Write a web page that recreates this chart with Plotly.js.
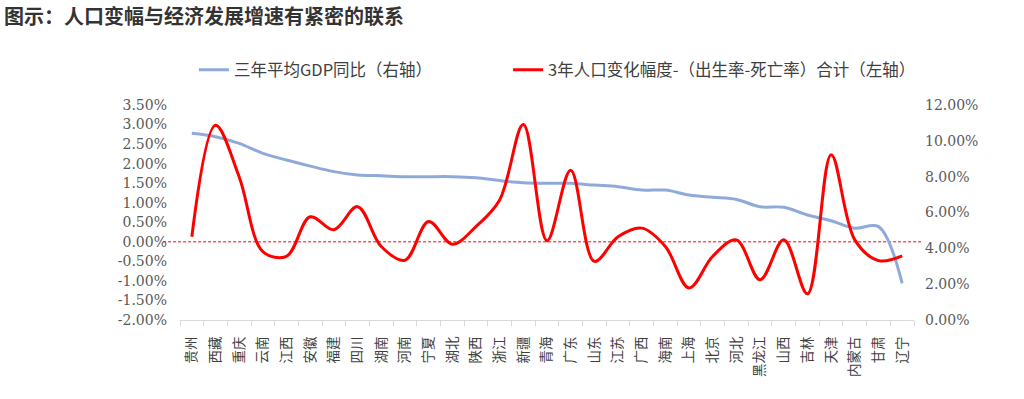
<!DOCTYPE html>
<html>
<head>
<meta charset="utf-8">
<script src="https://cdn.plot.ly/plotly-3.0.1.min.js"></script>
<style>html,body{margin:0;padding:0;background:#fff;}#chart{width:1024px;height:399px;}</style>
</head>
<body>
<div id="chart"></div>
<script>
var provinces = ["贵州","西藏","重庆","云南","江西","安徽","福建","四川","湖南","河南","宁夏","湖北","陕西","浙江","新疆","青海","广东","山东","江苏","广西","海南","上海","北京","河北","黑龙江","山西","吉林","天津","内蒙古","甘肃","辽宁"];
// 3年人口变化幅度-（出生率-死亡率）合计，%（左轴）
var popChange = [0.13, 2.98, 1.66, -0.25, -0.37, 0.64, 0.31, 0.90, -0.12, -0.47, 0.52, -0.06, 0.39, 1.07, 3.00, 0.03, 1.83, -0.50, 0.13, 0.35, -0.12, -1.18, -0.37, 0.05, -0.97, 0.05, -1.33, 2.23, 0.05, -0.48, -0.36];
// 三年平均GDP同比，%（右轴）
var gdpGrowth = [10.42, 10.23, 9.86, 9.30, 8.93, 8.59, 8.28, 8.09, 8.05, 8.00, 8.00, 8.00, 7.94, 7.78, 7.66, 7.63, 7.63, 7.53, 7.44, 7.25, 7.25, 6.98, 6.85, 6.73, 6.32, 6.29, 5.86, 5.54, 5.12, 5.21, 2.05];
var leftTickVals = [-2, -1.5, -1, -0.5, 0, 0.5, 1, 1.5, 2, 2.5, 3, 3.5];
var leftTickText = ["-2.00%","-1.50%","-1.00%","-0.50%","0.00%","0.50%","1.00%","1.50%","2.00%","2.50%","3.00%","3.50%"];
var rightTickVals = [0, 2, 4, 6, 8, 10, 12];
var rightTickText = ["0.00%","2.00%","4.00%","6.00%","8.00%","10.00%","12.00%"];
var zeroLevel = 0;

var cjk = '"Noto Sans CJK SC", "Noto Sans", sans-serif';
var numFont = '"DejaVu Serif", "Liberation Serif", serif';

var traces = [
  {
    type: 'scatter', mode: 'lines', x: provinces, y: gdpGrowth,
    name: '三年平均GDP同比（右轴）', yaxis: 'y', legend: 'legend',
    line: {color: '#8FAADA', width: 3, shape: 'spline', smoothing: 1},
    hoverinfo: 'skip'
  },
  {
    type: 'scatter', mode: 'lines', x: provinces, y: popChange,
    name: '3年人口变化幅度-（出生率-死亡率）合计（左轴）', yaxis: 'y2', legend: 'legend2',
    line: {color: '#FF0000', width: 3, shape: 'spline', smoothing: 1},
    hoverinfo: 'skip'
  }
];

var layout = {
  width: 1024, height: 399,
  margin: {l: 180, r: 110, t: 105, b: 79},
  paper_bgcolor: '#ffffff', plot_bgcolor: '#ffffff',
  title: {
    text: '<b>图示：人口变幅与经济发展增速有紧密的联系</b>',
    font: {family: cjk, size: 20, color: '#333333'},
    xref: 'container', yref: 'container', x: 0.004, xanchor: 'left', y: 0.957, yanchor: 'middle'
  },
  showlegend: true,
  legend: {
    x: 0.019, y: 1.163, xanchor: 'left', yanchor: 'middle', orientation: 'h',
    font: {family: cjk, size: 16.5, color: '#404040'}, bgcolor: 'rgba(0,0,0,0)'
  },
  legend2: {
    x: 0.447, y: 1.163, xanchor: 'left', yanchor: 'middle', orientation: 'h',
    font: {family: cjk, size: 16.5, color: '#404040'}, bgcolor: 'rgba(0,0,0,0)'
  },
  xaxis: {
    type: 'category', categoryorder: 'array', categoryarray: provinces,
    range: [-0.5, provinces.length - 0.5],
    tickangle: -90, tickson: 'boundaries', ticks: 'outside', ticklen: 5,
    tickcolor: '#d9d9d9', showline: true, linecolor: '#d9d9d9', linewidth: 1,
    showgrid: false, zeroline: false,
    tickfont: {family: cjk, size: 13.5, color: '#404040'},
    ticklabelstandoff: 10
  },
  yaxis: {
    side: 'right', range: [0, 12], tickvals: rightTickVals, ticktext: rightTickText,
    showgrid: false, zeroline: false, showline: false, ticks: '',
    tickfont: {family: numFont, size: 14, color: '#595959'},
    ticklabelstandoff: 10
  },
  yaxis2: {
    side: 'left', overlaying: 'y', range: [-2, 3.5], tickvals: leftTickVals, ticktext: leftTickText,
    showgrid: false, zeroline: false, showline: false, ticks: '',
    tickfont: {family: numFont, size: 14, color: '#595959'},
    ticklabelstandoff: 12
  },
  shapes: [{
    type: 'line', xref: 'paper', yref: 'y2', x0: -0.023, x1: 1.012, y0: zeroLevel, y1: zeroLevel,
    line: {color: '#FF0000', width: 1, dash: '3px,2px'}, layer: 'below'
  }]
};

Plotly.newPlot('chart', traces, layout, {staticPlot: true, displayModeBar: false});
</script>
</body>
</html>
